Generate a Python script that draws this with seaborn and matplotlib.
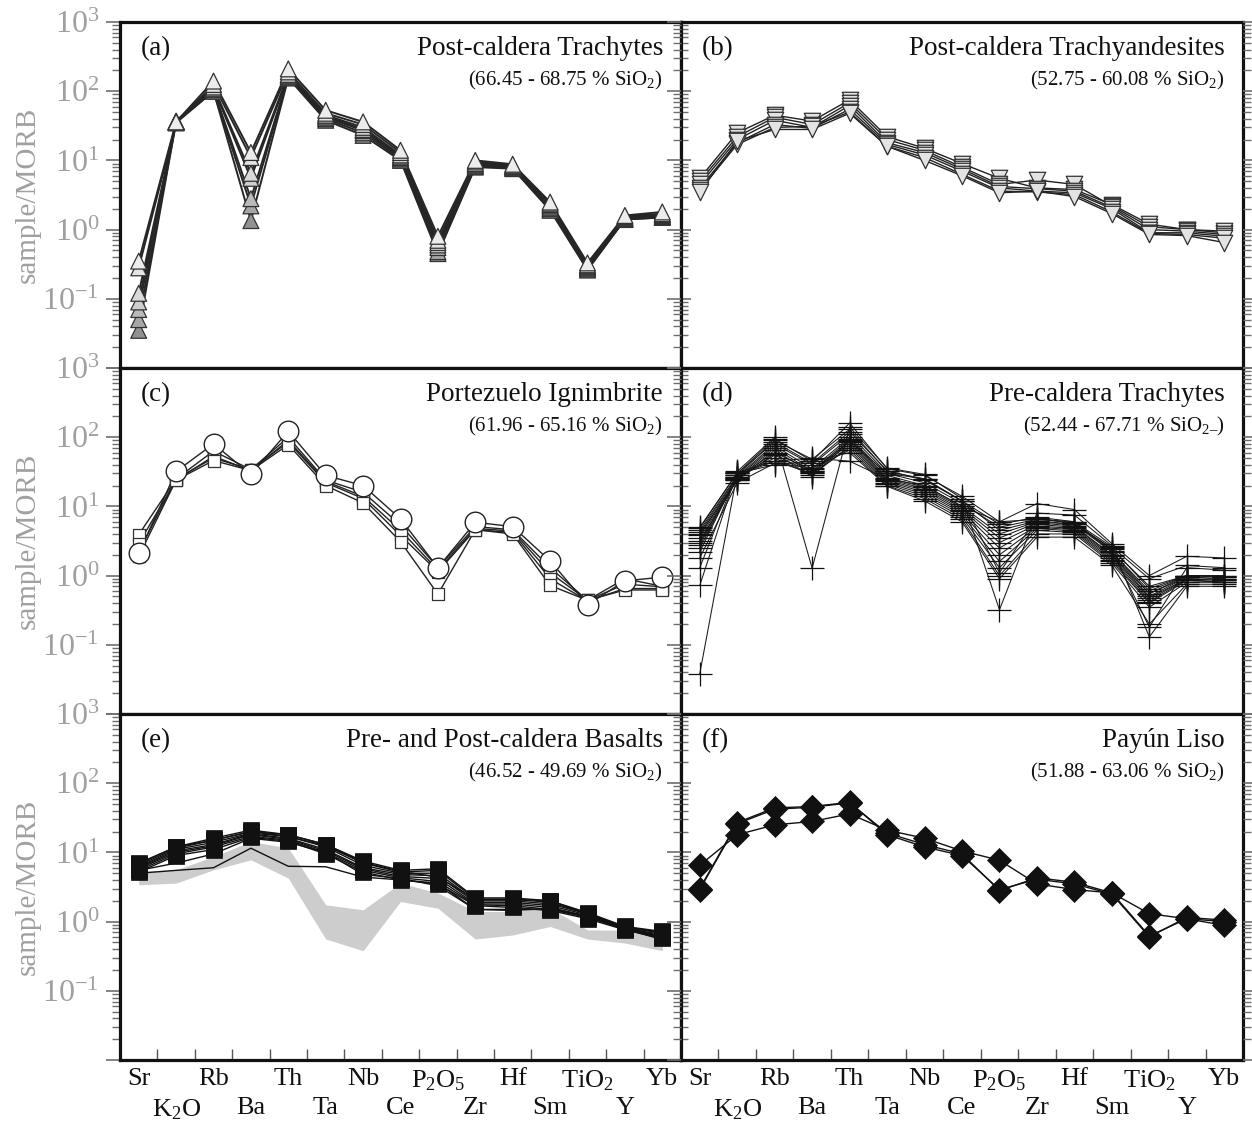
import numpy as np
import pandas as pd
import matplotlib
matplotlib.use("Agg")
import matplotlib.pyplot as plt
import seaborn as sns
from matplotlib.ticker import FixedLocator, FixedFormatter, LogLocator, NullFormatter

# ---------------- data ----------------
elements = ["Sr", "K$_2$O", "Rb", "Ba", "Th", "Ta", "Nb", "Ce", "P$_2$O$_5$",
            "Zr", "Hf", "Sm", "TiO$_2$", "Y", "Yb"]

# (a) Post-caldera Trachytes
a_s1 = [0.35, 36, 140, 13, 210, 53, 36, 14, 0.80, 10.0, 8.8, 2.5, 0.33, 1.60, 1.80]
a_s2 = [0.28, 35, 125, 11, 190, 48, 33, 13, 0.70, 9.5, 8.5, 2.4, 0.31, 1.55, 1.70]
a_s3 = [0.12, 36, 115, 6.5, 175, 45, 30, 12, 0.65, 9.0, 8.3, 2.3, 0.30, 1.50, 1.65]
a_s4 = [0.09, 37, 110, 5.5, 170, 44, 28, 11.5, 0.60, 8.8, 8.2, 2.2, 0.29, 1.45, 1.60]
a_s5 = [0.07, 36, 105, 2.8, 165, 42, 27, 11, 0.55, 8.5, 8.0, 2.1, 0.28, 1.45, 1.55]
a_s6 = [0.05, 35, 100, 2.2, 160, 40, 25, 10.5, 0.48, 8.2, 7.8, 2.0, 0.27, 1.40, 1.50]
a_s7 = [0.035, 36, 100, 1.35, 155, 38, 23, 10, 0.45, 8.0, 7.6, 1.9, 0.26, 1.40, 1.50]
a_fill = ["#ececec", "#e4e4e4", "#dadada", "#cecece", "#bababa", "#a6a6a6", "#929292"]

# (b) Post-caldera Trachyandesites
b_s1 = [5.5, 25, 45, 37, 75, 22, 15, 9.0, 5.5, 4.0, 3.8, 2.3, 1.20, 1.00, 0.90]
b_s2 = [5.0, 22, 42, 33, 68, 20, 14, 8.0, 4.5, 5.2, 4.5, 2.2, 1.10, 1.00, 0.95]
b_s3 = [4.5, 20, 38, 30, 62, 18, 13, 7.5, 4.2, 3.9, 3.6, 2.1, 1.00, 0.95, 0.85]
b_s4 = [4.0, 18, 33, 29, 55, 17, 12, 7.0, 4.0, 3.6, 3.4, 2.0, 0.90, 0.90, 0.80]
b_s5 = [3.7, 17, 30, 31, 50, 16, 11, 6.3, 3.6, 3.5, 3.2, 1.8, 0.88, 0.85, 0.75]
b_s6 = [3.5, 19, 28, 28, 48, 16, 10, 6.0, 3.4, 3.6, 3.0, 1.7, 0.85, 0.82, 0.65]

# (c) Portezuelo Ignimbrite (circle sample + square samples)
c_circle = [2.1, 32, 80, 29, 122, 28, 20, 6.6, 1.30, 5.9, 5.1, 1.63, 0.38, 0.84, 0.95]
c_sq1 = [3.9, 25, 63, 34, 100, 24, 16, 5.4, 1.30, 5.1, 4.6, 1.30, 0.44, 0.90, 0.70]
c_sq2 = [2.9, 24, 53, 33, 90, 23, 14, 4.5, 1.20, 4.8, 4.4, 1.10, 0.44, 0.75, 0.69]
c_sq3 = [2.2, 25, 50, 34, 85, 22, 13, 3.8, 1.14, 4.6, 4.2, 0.90, 0.43, 0.65, 0.65]
c_sq4 = [1.9, 24, 46, 33, 78, 20, 11.2, 3.1, 0.54, 4.6, 4.0, 0.72, 0.44, 0.62, 0.62]

# (d) Pre-caldera Trachytes
d_s1 = [5.0, 30, 95, 45, 160, 35, 28, 14, 6.0, 11, 9.0, 2.9, 1.00, 1.9, 1.8]
d_s2 = [4.5, 28, 90, 48, 130, 32, 25, 12, 5.5, 7.0, 6.0, 2.6, 0.90, 1.4, 1.3]
d_s3 = [4.2, 27, 80, 40, 110, 30, 22, 11, 5.0, 6.5, 5.8, 2.4, 0.70, 1.0, 1.0]
d_s4 = [3.8, 26, 75, 35, 100, 28, 20, 10, 4.0, 6.0, 5.5, 2.2, 0.60, 1.0, 0.95]
d_s5 = [3.5, 25, 70, 32, 95, 26, 19, 9.5, 3.5, 5.8, 5.2, 2.0, 0.55, 0.95, 0.9]
d_s6 = [3.2, 24, 65, 30, 90, 25, 18, 9.0, 3.0, 5.5, 5.0, 2.0, 0.50, 0.95, 0.9]
d_s7 = [3.0, 26, 60, 33, 85, 24, 17, 8.5, 2.5, 5.2, 4.8, 1.9, 0.48, 0.9, 0.85]
d_s8 = [2.8, 25, 55, 31, 80, 23, 16, 8.0, 2.0, 5.0, 4.6, 1.8, 0.45, 0.9, 0.85]
d_s9 = [2.5, 27, 50, 28, 75, 22, 15, 7.5, 1.6, 4.8, 4.4, 1.7, 0.42, 0.88, 0.8]
d_s10 = [2.2, 28, 45, 30, 70, 21, 14, 7.0, 1.3, 4.5, 4.2, 1.6, 0.40, 0.85, 0.8]
d_s11 = [1.8, 22, 42, 36, 65, 20, 13, 6.5, 1.0, 4.0, 4.0, 1.5, 0.35, 0.8, 0.8]
d_s12 = [1.3, 30, 40, 45, 60, 19.5, 12, 6.0, 0.9, 3.6, 3.6, 1.4, 0.20, 0.75, 0.75]
d_s13 = [0.72, 32, 100, 1.28, 140, 36, 29, 13, 0.32, 8.0, 7.5, 2.7, 0.13, 0.7, 0.7]
d_s14 = [0.038, 30, 85, 42, 120, 33, 24, 12, 1.1, 6.8, 5.6, 2.3, 0.18, 1.3, 1.2]
d_s15 = [4.8, 31, 45, 50, 45, 25, 20, 10, 6.0, 6.5, 6.0, 2.2, 0.55, 1.0, 0.95]
d_s16 = [4.0, 24, 58, 27, 88, 30, 25, 12, 4.5, 6.2, 5.5, 2.5, 0.65, 1.0, 1.0]

# (e) Pre- and Post-caldera Basalts
e_s1 = [7.0, 12, 16, 21, 18, 13, 7.5, 5.5, 5.8, 2.2, 2.2, 2.0, 1.35, 0.85, 0.72]
e_s2 = [6.5, 11.5, 15, 20, 17, 12.5, 7.0, 5.2, 5.5, 2.1, 2.1, 1.9, 1.30, 0.84, 0.70]
e_s3 = [6.2, 11, 14, 19, 17, 12, 6.5, 5.0, 5.0, 2.0, 2.0, 1.8, 1.30, 0.82, 0.68]
e_s4 = [6.0, 10.5, 13, 18.5, 16, 11, 6.0, 4.8, 4.6, 1.9, 1.9, 1.7, 1.25, 0.80, 0.65]
e_s5 = [5.8, 10, 12.5, 18, 15.5, 10.5, 5.8, 4.5, 4.2, 1.8, 1.8, 1.6, 1.20, 0.80, 0.62]
e_s6 = [5.5, 9.5, 12, 17, 15, 10, 5.5, 4.3, 3.8, 1.75, 1.7, 1.5, 1.15, 0.78, 0.60]
e_s7 = [5.2, 9, 11, 16.5, 14.5, 9.5, 5.2, 4.0, 3.5, 1.7, 1.6, 1.45, 1.10, 0.76, 0.57]
e_s8 = [6.8, 12, 15, 20, 18, 13, 7.2, 5.3, 4.4, 2.1, 2.1, 2.0, 1.30, 0.82, 0.60]
e_line1 = [5.0, 5.5, 6.0, 11.5, 6.3, 6.2, 4.4, 4.0, 3.6, 1.5, 1.45, 1.55, 1.20, 0.78, 0.55]
e_line2 = [5.5, 7.0, 9.5, 16, 14, 10, 4.8, 4.2, 3.3, 1.5, 1.5, 1.5, 1.20, 0.78, 0.58]
e_band_low = [3.4, 3.6, 5.6, 7.8, 4.25, 0.56, 0.38, 1.95, 1.56, 0.56, 0.64, 0.85, 0.56, 0.49, 0.38]
e_band_high = [5.3, 5.6, 8.7, 14.4, 11.6, 1.75, 1.48, 3.6, 2.6, 1.4, 1.4, 1.56, 0.76, 0.75, 0.64]

# (f) Payun Liso
f_s1 = [6.5, 18, 25, 28, 36, 21, 16, 10.5, 7.7, 3.5, 2.9, 2.6, 1.30, 1.10, 1.00]
f_s2 = [2.9, 26, 42, 45, 52, 19, 13, 9.5, 2.8, 4.3, 3.7, 2.6, 0.62, 1.10, 0.88]
f_s3 = [3.0, 27, 44, 46, 53, 18, 12, 9.0, 2.9, 4.1, 3.5, 2.5, 0.60, 1.15, 1.05]

titles = ["Post-caldera Trachytes", "Post-caldera Trachyandesites", "Portezuelo Ignimbrite",
          "Pre-caldera Trachytes", "Pre- and Post-caldera Basalts", "Payún Liso"]
subtitles = ["(66.45 - 68.75 % SiO$_2$)", "(52.75 - 60.08 % SiO$_2$)", "(61.96 - 65.16 % SiO$_2$)",
             "(52.44 - 67.71 % SiO$_{2\u2013}$)", "(46.52 - 49.69 % SiO$_2$)", "(51.88 - 63.06 % SiO$_2$)"]
letters = ["(a)", "(b)", "(c)", "(d)", "(e)", "(f)"]
ytick_vals = [1e-2, 1e-1, 1e0, 1e1, 1e2, 1e3]
ytick_text = ["", "$10^{-1}$", "$10^{0}$", "$10^{1}$", "$10^{2}$", "$10^{3}$"]


def long_form(samples, prefix):
    rows = []
    for k, vals in enumerate(samples):
        for i, v in enumerate(vals):
            rows.append({"sample": f"{prefix}{k}", "pos": i, "value": v})
    return pd.DataFrame(rows)


# ---------------- style ----------------
sns.set_theme(style="white")
plt.rcParams["font.family"] = ["Liberation Serif", "DejaVu Serif"]
plt.rcParams["mathtext.fontset"] = "custom"
plt.rcParams["mathtext.rm"] = "Liberation Serif"
plt.rcParams["mathtext.it"] = "Liberation Serif:italic"
plt.rcParams["mathtext.bf"] = "Liberation Serif:bold"

W, H = 1252, 1138
fig = plt.figure(figsize=(W / 100, H / 100), dpi=100)
GRAY = "#a0a0a0"
TICKC = "#6e6e6e"

col_x = [(120, 561), (681, 562)]
row_top = [22, 368, 714]
row_h = 346

axes = []
for r in range(3):
    for c in range(2):
        x0, w = col_x[c]
        ax = fig.add_axes([x0 / W, 1 - (row_top[r] + row_h) / H, w / W, row_h / H])
        axes.append((ax, r, c))


def setup(ax, r, c, idx):
    ax.set_yscale("log")
    ax.set_ylim(1e-2, 1e3)
    ax.set_xlim(-0.5, 14.5)
    ax.set_xlabel("")
    ax.set_ylabel("")
    for sp in ax.spines.values():
        sp.set_visible(True)
        sp.set_linewidth(2.3)
        sp.set_color("#111111")
    ax.yaxis.set_major_locator(FixedLocator(ytick_vals))
    ax.yaxis.set_minor_locator(LogLocator(base=10, subs=np.arange(2, 10), numticks=40))
    ax.yaxis.set_minor_formatter(NullFormatter())
    tw = ax.twinx()
    tw.set_yscale("log")
    tw.set_ylim(1e-2, 1e3)
    tw.yaxis.set_major_locator(FixedLocator(ytick_vals))
    tw.yaxis.set_minor_locator(LogLocator(base=10, subs=np.arange(2, 10), numticks=40))
    tw.yaxis.set_major_formatter(NullFormatter())
    tw.yaxis.set_minor_formatter(NullFormatter())
    for sp in tw.spines.values():
        sp.set_visible(False)
    if c == 0:
        ax.yaxis.set_major_formatter(FixedFormatter(ytick_text))
        ax.tick_params(axis="y", which="major", left=True, right=False, direction="out",
                       length=10, width=1.2, color=TICKC, labelsize=23, labelcolor=GRAY, pad=5)
        ax.tick_params(axis="y", which="minor", left=True, right=False, direction="out",
                       length=6, width=1.0, color=TICKC)
        tw.tick_params(axis="y", which="major", right=True, direction="in", length=10,
                       width=1.2, color=TICKC)
        tw.tick_params(axis="y", which="minor", right=True, direction="in", length=6,
                       width=1.0, color=TICKC)
        ax.set_ylabel("sample/MORB", fontsize=21, color=GRAY, labelpad=1)
    else:
        ax.yaxis.set_major_formatter(NullFormatter())
        ax.tick_params(axis="y", which="major", left=True, right=False, direction="in",
                       length=7, width=1.2, color=TICKC)
        ax.tick_params(axis="y", which="minor", left=True, right=False, direction="in",
                       length=5, width=1.0, color=TICKC)
        tw.tick_params(axis="y", which="major", right=True, direction="out", length=10,
                       width=1.2, color=TICKC)
        tw.tick_params(axis="y", which="minor", right=True, direction="out", length=6,
                       width=1.0, color=TICKC)
    if r == 2:
        even = list(range(0, len(elements), 2))
        odd = list(range(1, len(elements), 2))
        ax.xaxis.set_major_locator(FixedLocator(even))
        ax.xaxis.set_major_formatter(FixedFormatter([elements[i] for i in even]))
        ax.xaxis.set_minor_locator(FixedLocator(list(np.arange(0.5, len(elements) - 1, 1.0))))
        ax.tick_params(axis="x", which="major", bottom=True, length=0, labelsize=19,
                       labelcolor="#111111", pad=6)
        ax.tick_params(axis="x", which="minor", bottom=True, top=False, direction="in",
                       length=8, width=1.0, color="#555555")
        sec = ax.secondary_xaxis("bottom")
        sec.set_xticks(odd)
        sec.set_xticklabels([elements[i] for i in odd])
        sec.tick_params(axis="x", which="major", length=0, labelsize=19,
                        labelcolor="#111111", pad=27)
        sec.tick_params(axis="x", which="minor", length=0)
        sec.spines["bottom"].set_visible(False)
    else:
        ax.set_xticks([])
    ax.text(0.037, 0.922, letters[idx], transform=ax.transAxes, fontsize=19.5,
            ha="left", va="center", color="#111111")
    ax.text(0.968, 0.922, titles[idx], transform=ax.transAxes, fontsize=19.5,
            ha="right", va="center", color="#111111")
    ax.text(0.968, 0.83, subtitles[idx], transform=ax.transAxes, fontsize=15,
            ha="right", va="center", color="#111111")


def draw_lines(ax, df, lw=1.0, color="#222222"):
    sns.lineplot(data=df, x="pos", y="value", units="sample", estimator=None,
                 color=color, lw=lw, sort=False, legend=False, ax=ax, zorder=2)


# (a) -- darker samples drawn first so the lighter triangles sit on top
ax = axes[0][0]
df_a = long_form([a_s1, a_s2, a_s3, a_s4, a_s5, a_s6, a_s7], "a")
draw_lines(ax, df_a, lw=1.4, color="#262626")
pal_a = {f"a{k}": a_fill[k] for k in range(7)}
df_a_draw = pd.concat([df_a[df_a["sample"] == f"a{k}"] for k in range(6, -1, -1)])
sns.scatterplot(data=df_a_draw, x="pos", y="value", hue="sample", palette=pal_a, marker="^",
                s=130, edgecolor="#333333", linewidth=0.9, legend=False, ax=ax, zorder=3)

# (b)
ax = axes[1][0]
df_b = long_form([b_s1, b_s2, b_s3, b_s4, b_s5, b_s6], "b")
draw_lines(ax, df_b, lw=1.0)
sns.scatterplot(data=df_b, x="pos", y="value", color="#e3e3e3", marker="v",
                s=140, edgecolor="#333333", linewidth=0.9, legend=False, ax=ax, zorder=3)

# (c)
ax = axes[2][0]
df_c_sq = long_form([c_sq1, c_sq2, c_sq3, c_sq4], "q")
df_c_ci = long_form([c_circle], "c")
draw_lines(ax, pd.concat([df_c_sq, df_c_ci]), lw=1.0)
sns.scatterplot(data=df_c_sq, x="pos", y="value", color="white", marker="s",
                s=85, edgecolor="#333333", linewidth=0.9, legend=False, ax=ax, zorder=3)
sns.scatterplot(data=df_c_ci, x="pos", y="value", color="white", marker="o",
                s=220, edgecolor="#222222", linewidth=1.0, legend=False, ax=ax, zorder=4)

# (d)
ax = axes[3][0]
df_d = long_form([d_s1, d_s2, d_s3, d_s4, d_s5, d_s6, d_s7, d_s8, d_s9, d_s10,
                  d_s11, d_s12, d_s13, d_s14, d_s15, d_s16], "d")
draw_lines(ax, df_d, lw=0.75, color="#1a1a1a")
sns.scatterplot(data=df_d, x="pos", y="value", color="#111111", marker="+",
                s=280, linewidth=0.9, legend=False, ax=ax, zorder=3)

# (e)
ax = axes[4][0]
ax.fill_between(range(len(elements)), e_band_low, e_band_high, color="#cdcdcd", lw=0, zorder=1)
df_e = long_form([e_s1, e_s2, e_s3, e_s4, e_s5, e_s6, e_s7, e_s8], "e")
df_el = long_form([e_line1, e_line2], "l")
draw_lines(ax, pd.concat([df_e, df_el]), lw=1.0, color="#111111")
sns.scatterplot(data=df_e, x="pos", y="value", color="#111111", marker="s",
                s=120, edgecolor="#111111", linewidth=0.5, legend=False, ax=ax, zorder=3)

# (f)
ax = axes[5][0]
df_f = long_form([f_s1, f_s2, f_s3], "f")
draw_lines(ax, df_f, lw=1.0, color="#111111")
sns.scatterplot(data=df_f, x="pos", y="value", color="#111111", marker="D",
                s=150, edgecolor="#111111", linewidth=0.5, legend=False, ax=ax, zorder=3)

for idx, (ax, r, c) in enumerate(axes):
    setup(ax, r, c, idx)

fig.savefig("out.png", dpi=100)
